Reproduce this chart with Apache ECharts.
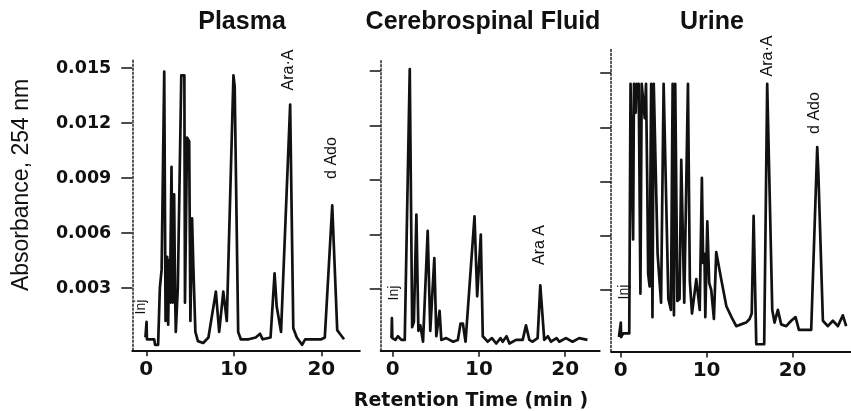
<!DOCTYPE html>
<html>
<head>
<meta charset="utf-8">
<script src="https://cdn.jsdelivr.net/npm/echarts@6/dist/echarts.min.js"></script>
<style>
  html, body { margin: 0; padding: 0; background: #fff; }
  #chart { width: 851px; height: 411px; }
</style>
</head>
<body>
<div id="chart"></div>
<script>
// ---- Data (retention time in min, absorbance at 254 nm) ----
const panelTitles = ['Plasma', 'Cerebrospinal Fluid', 'Urine'];
const yTicks = [0.003, 0.006, 0.009, 0.012, 0.015];
const xTicks = [0, 10, 20];

const plasmaTrace = [
  [-0.1, 0.0003], [0.0, 0.0003], [0.03, 0.00115], [0.07, 0.0002], [0.9, 0.0002],
  [1.0, -0.0001], [1.35, -0.0001], [1.55, 0.0030], [1.75, 0.0040], [2.05, 0.0148],
  [2.2, 0.0012], [2.39, 0.0047], [2.5, 0.0010], [2.6, 0.0045], [2.7, 0.0022],
  [2.88, 0.0096], [3.0, 0.0022], [3.1, 0.0045], [3.18, 0.0081], [3.28, 0.0030],
  [3.37, 0.0006], [3.6, 0.0030], [4.0, 0.0146], [4.35, 0.0146], [4.42, 0.0022],
  [4.66, 0.0112], [4.9, 0.0110], [5.04, 0.0012], [5.23, 0.0068], [5.38, 0.0041],
  [5.61, 0.0006], [5.9, 0.0001], [6.5, 0.0000], [7.1, 0.0003], [7.95, 0.0028],
  [8.33, 0.0006], [8.8, 0.0028], [9.0, 0.0029], [9.2, 0.0012], [9.96, 0.0146],
  [10.1, 0.0140], [10.5, 0.0006], [10.8, 0.0002], [11.7, 0.0002], [12.5, 0.0003],
  [13.0, 0.0005], [13.3, 0.0002], [14.2, 0.0003], [14.66, 0.0038], [14.9, 0.0020],
  [15.4, 0.0006], [16.44, 0.0130], [16.8, 0.0008], [17.2, 0.0003], [17.8, -0.0001],
  [18.15, 0.0002], [19.0, 0.0002], [20.0, 0.0002], [20.4, 0.0003], [21.25, 0.0075],
  [21.82, 0.0007], [22.12, 0.0005], [22.6, 0.0002]
];

const csfTrace = [
  [-0.15, 0.0003], [-0.1, 0.0014], [-0.05, 0.0003], [0.3, 0.0002], [0.6, 0.0004],
  [1.0, 0.0002], [1.39, 0.0002], [1.97, 0.0151], [2.1, 0.0150], [2.25, 0.0009],
  [2.45, 0.0012], [2.74, 0.0071], [2.97, 0.0007], [3.2, 0.0010], [3.51, 0.0001],
  [4.05, 0.0062], [4.35, 0.0007], [4.82, 0.0047], [5.05, 0.0004], [5.43, 0.0018],
  [5.63, 0.0002], [6.2, 0.0003], [7.0, 0.0001], [7.55, 0.0002], [7.86, 0.0011],
  [8.13, 0.0011], [8.44, 0.0001], [9.48, 0.0070], [9.79, 0.0026], [10.21, 0.0060],
  [10.44, 0.0004], [11.0, 0.0001], [11.5, 0.0003], [12.0, 0.0000], [12.5, 0.0003],
  [12.75, 0.0001], [13.2, 0.0004], [13.53, 0.0000], [14.3, 0.0002], [15.07, 0.0002],
  [15.45, 0.0010], [15.84, 0.0002], [16.22, 0.0001], [16.8, 0.0003], [17.11, 0.0032],
  [17.57, 0.0002], [18.0, 0.0004], [18.34, 0.0001], [19.0, 0.0003], [19.31, 0.0001],
  [20.08, 0.0003], [20.85, 0.0001], [21.62, 0.0003], [22.58, 0.0002]
];

const urineTrace = [
  [-0.2, 0.0004], [0.0, 0.0004], [0.02, 0.0012], [0.05, 0.0004], [0.3, 0.0006],
  [1.0, 0.0006], [1.15, 0.0144], [1.3, 0.0144], [1.45, 0.0058], [1.55, 0.0144],
  [1.65, 0.0130], [1.75, 0.0128], [1.85, 0.0144], [2.0, 0.0140], [2.1, 0.0144],
  [2.3, 0.0028], [2.45, 0.0144], [2.6, 0.0144], [2.8, 0.0125], [2.95, 0.0144],
  [3.1, 0.0087], [3.2, 0.0039], [3.37, 0.0032], [3.55, 0.0144], [3.7, 0.0015],
  [3.85, 0.0144], [4.05, 0.0144], [4.3, 0.0050], [4.7, 0.0023], [5.0, 0.0144],
  [5.2, 0.0144], [5.55, 0.0025], [5.85, 0.0019], [6.05, 0.0144], [6.2, 0.0016],
  [6.35, 0.0144], [6.6, 0.0024], [6.85, 0.0025], [7.05, 0.0102], [7.4, 0.0023],
  [7.6, 0.0022], [7.83, 0.0144], [8.05, 0.0035], [8.3, 0.0017], [8.8, 0.0036],
  [9.2, 0.0019], [9.45, 0.0092], [9.6, 0.0045], [9.75, 0.0050], [9.85, 0.0015],
  [10.08, 0.0068], [10.3, 0.0034], [10.54, 0.0030], [10.85, 0.0014], [11.12, 0.0051],
  [11.7, 0.0036], [12.3, 0.0021], [12.9, 0.0015], [13.45, 0.0010], [14.0, 0.0011],
  [14.6, 0.0012], [15.0, 0.0014], [15.25, 0.0017], [15.47, 0.0071], [15.78, 0.0000],
  [16.7, 0.0000], [17.05, 0.0144], [17.2, 0.0144], [17.64, 0.0019], [17.9, 0.0012],
  [18.29, 0.0019], [18.68, 0.0011], [19.26, 0.0010], [19.84, 0.0013], [20.35, 0.0015],
  [20.74, 0.0008], [22.17, 0.0008], [22.87, 0.0109], [23.0, 0.0095], [23.53, 0.0013],
  [24.1, 0.0010], [24.69, 0.0013], [25.27, 0.0010], [25.85, 0.0016], [26.24, 0.0010]
];

const traces = [plasmaTrace, csfTrace, urineTrace];
const xRanges = [[-1.6, 24.4], [-1.4, 24], [-1.1, 26.8]];
const yRanges = [[-0.0004, 0.0155], [-0.0004, 0.0156], [-0.0004, 0.0163]];

// ---- Layout ----
const grids = [
  { left: 132.3, top: 58.8, width: 227.5, height: 291.5, outerBoundsMode: 'none' },
  { left: 380.7, top: 60.1, width: 219, height: 290.7, outerBoundsMode: 'none' },
  { left: 611.2, top: 49.5, width: 239.8, height: 302, outerBoundsMode: 'none' }
];

const ink = '#111';
const xAxes = grids.map((g, i) => ({
  type: 'value', gridIndex: i, min: xRanges[i][0], max: xRanges[i][1],
  axisLine: { show: true, onZero: false, lineStyle: { color: ink, width: 2 } },
  axisTick: { show: true, customValues: xTicks, length: 6, lineStyle: { color: ink, width: 1.5 } },
  axisLabel: { show: true, customValues: xTicks, margin: 9, color: ink,
    fontFamily: 'DejaVu Sans', fontWeight: 'bold', fontSize: 20 },
  splitLine: { show: false }
}));
const yAxes = grids.map((g, i) => ({
  type: 'value', gridIndex: i, min: yRanges[i][0], max: yRanges[i][1],
  axisLine: { show: true, onZero: false, lineStyle: { color: '#222', width: 1.5, type: [2, 2] } },
  axisTick: { show: true, customValues: yTicks, length: 11, lineStyle: { color: ink, width: 1.5 } },
  axisLabel: { show: i === 0, customValues: yTicks, margin: 21, color: ink,
    fontFamily: 'DejaVu Sans', fontWeight: 'bold', fontSize: 17.5,
    formatter: v => v.toFixed(3) },
  splitLine: { show: false }
}));

const series = traces.map((d, i) => ({
  type: 'line', xAxisIndex: i, yAxisIndex: i, data: d,
  showSymbol: false, symbol: 'none', smooth: false,
  lineStyle: { color: ink, width: 2.7, join: 'round' }
}));

function txt(text, x, y, font, rot) {
  return { type: 'text', x: x, y: y, rotation: rot || 0, silent: true,
    style: { text: text, font: font, fill: ink, align: 'center', verticalAlign: 'middle' } };
}
const titleFont = 'bold 25px "Liberation Sans", Arial, sans-serif';
const annFont = '16px "Liberation Sans", Arial, sans-serif';
const injFont = '14px "Liberation Sans", Arial, sans-serif';
const R = Math.PI / 2;

const graphic = [
  txt(panelTitles[0], 242, 22, titleFont),
  txt(panelTitles[1], 483, 22, titleFont),
  txt(panelTitles[2], 712, 22, titleFont),
  txt('Absorbance, 254 nm', 22, 185, '23px "Liberation Sans", Arial, sans-serif', R),
  txt('Retention Time (min )', 471, 401, 'bold 19px "DejaVu Sans", sans-serif'),
  txt('Ara\u00B7A', 289, 70, annFont, R),
  txt('d Ado', 332, 158, annFont, R),
  txt('Inj', 141, 307, injFont, R),
  txt('Ara A', 540, 245, annFont, R),
  txt('Inj', 394, 293, injFont, R),
  txt('Ara\u00B7A', 767.5, 56, annFont, R),
  txt('d Ado', 815, 113, annFont, R),
  txt('Inj', 624, 292, injFont, R)
];

const chart = echarts.init(document.getElementById('chart'), null, { renderer: 'canvas' });
chart.setOption({
  animation: false,
  backgroundColor: '#fff',
  grid: grids,
  xAxis: xAxes,
  yAxis: yAxes,
  series: series,
  graphic: graphic
});
</script>
</body>
</html>
